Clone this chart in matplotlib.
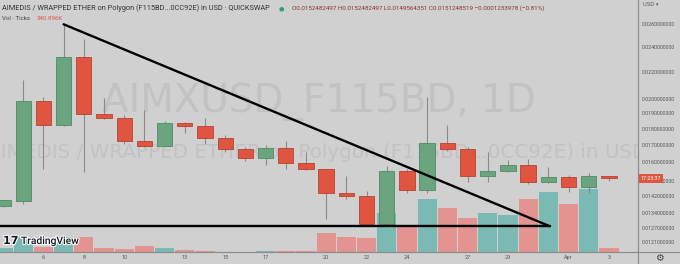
import matplotlib
matplotlib.use("Agg")
import matplotlib.pyplot as plt
from matplotlib.ticker import NullLocator
import matplotlib.patheffects as pe
from matplotlib.lines import Line2D

# ---------------- data ----------------
days = list(range(4, 35))  # day number counted from 1 March (32 = 1 Apr)
opens = [0.01370, 0.01396, 0.01984, 0.01823, 0.02315, 0.01897, 0.01871, 0.01724,
         0.01693, 0.01834, 0.01819, 0.01740, 0.01675, 0.01625, 0.01680, 0.01596,
         0.01561, 0.01438, 0.01421, 0.01289, 0.01550, 0.01453, 0.01715, 0.01675,
         0.01525, 0.01550, 0.01583, 0.01493, 0.01518, 0.01465, 0.0152482497]
highs = [0.01402, 0.02136, 0.02010, 0.02594, 0.02469, 0.02003, 0.01889, 0.01922,
         0.01851, 0.01845, 0.01867, 0.01760, 0.01690, 0.01699, 0.01725, 0.01659,
         0.01565, 0.01523, 0.01446, 0.01580, 0.01565, 0.02014, 0.01823, 0.01690,
         0.01656, 0.01612, 0.01621, 0.01574, 0.01530, 0.01542, 0.0152482497]
lows = [0.01365, 0.01383, 0.01565, 0.01818, 0.01546, 0.01866, 0.01709, 0.01690,
        0.01690, 0.01771, 0.01709, 0.01659, 0.01608, 0.01587, 0.01565, 0.01556,
        0.01312, 0.01408, 0.01282, 0.01287, 0.01437, 0.01437, 0.01665, 0.01493,
        0.01493, 0.01548, 0.01481, 0.01487, 0.01441, 0.01437, 0.0149564351]
closes = [0.01400, 0.01984, 0.01823, 0.02315, 0.01897, 0.01871, 0.01725, 0.01693,
          0.01834, 0.01819, 0.01740, 0.01675, 0.01625, 0.01680, 0.01596, 0.01561,
          0.01438, 0.01421, 0.01289, 0.01550, 0.01453, 0.01715, 0.01675, 0.01525,
          0.01550, 0.01583, 0.01493, 0.01518, 0.01465, 0.01525, 0.0151248519]
volumes_k = [341, 1329, 477, 1278, 1329, 392, 256, 511, 392, 196, 111, 51, 51, 111,
             136, 111, 1670, 1329, 1244, 3375, 2182, 4568, 3775, 2923, 3375, 3153,
             4542, 5139, 4142, 5394, 340.896]

price_ticks = [0.026, 0.024, 0.022, 0.020, 0.019, 0.018, 0.017, 0.016, 0.015,
               0.0142, 0.0134, 0.0127, 0.0121]
date_ticks = [6, 8, 10, 13, 15, 17, 20, 22, 24, 27, 29, 32, 34]
date_labels = ["6", "8", "10", "13", "15", "17", "20", "22", "24", "27", "29", "Apr", "3"]

trend_days = [7.0, 31.08]
trend_prices = [0.02600, 0.01277]
support_days = [3.85, 31.08]
support_prices = [0.01277, 0.01277]

title_text = "AIMEDIS / WRAPPED ETHER on Polygon (F115BD...0CC92E) in USD · QUICKSWAP"
ohlc_text = "O0.0152482497 H0.0152482497 L0.0149564351 C0.0151248519 \u22120.0001233978 (\u22120.81%)"
watermark1 = "AIMXUSD_F115BD, 1D"
watermark2 = "AIMEDIS / WRAPPED ETHER on Polygon (F115BD...0CC92E) in USD"

# ---------------- style ----------------
BG = "#d0d0d0"
UP = "#6aa57f"
UP_EDGE = "#4e8a64"
DN = "#e0553f"
DN_EDGE = "#b8412f"
VUP = "#7bbab4"
VDN = "#e39390"
WICK = "#8a8a8a"
WM = "#c2c2c2"
TXT = "#555555"

W, H = 680, 264
fig = plt.figure(figsize=(W / 100, H / 100), dpi=100)
fig.patch.set_facecolor(BG)

ax_left, ax_right, ax_bottom = 0.0, 638 / W, (H - 252.3) / H
axv = fig.add_axes([ax_left, ax_bottom, ax_right - ax_left, 1 - ax_bottom])
ax = fig.add_axes([ax_left, ax_bottom, ax_right - ax_left, 1 - ax_bottom], sharex=axv)
axv.set_facecolor(BG)
ax.patch.set_visible(False)

x_min, x_max = 3.85, 35.44
ax.set_xlim(x_min, x_max)

# volume
vcols = [VUP if c >= o else VDN for o, c in zip(opens, closes)]
axv.bar(days, volumes_k, width=0.95, color=vcols, edgecolor="none", zorder=1)
axv.set_ylim(0, 252.3 * 85.22)
axv.axis("off")

# watermarks (on volume axes, behind everything)
axv.text(0.5, (252.3 - 102) / 252.3, watermark1, transform=axv.transAxes, ha="center",
         va="center", fontsize=28, color=WM, family="DejaVu Sans", zorder=0)
axv.text(0.497, (252.3 - 152) / 252.3, watermark2, transform=axv.transAxes, ha="center",
         va="center", fontsize=14.3, color=WM, family="DejaVu Sans", zorder=0, clip_on=True)

# candles
ax.set_yscale("log")
ax.set_ylim(0.011654, 0.02832)
ax.vlines(days, lows, highs, color=WICK, lw=0.8, zorder=2)
for d, o, c in zip(days, opens, closes):
    up = c >= o
    bottom = min(o, c)
    height = max(abs(c - o), bottom * 0.004)
    ax.bar(d, height, bottom=bottom, width=0.76, color=UP if up else DN,
           edgecolor=UP_EDGE if up else DN_EDGE, linewidth=0.6, zorder=3)

# drawn trend lines
ax.plot(trend_days, trend_prices, color="black", lw=1.7, zorder=5, solid_capstyle="round")
ax.plot(support_days, support_prices, color="black", lw=1.7, zorder=5, solid_capstyle="round")

# axes
for s in ["top", "left"]:
    ax.spines[s].set_visible(False)
ax.spines["right"].set_color("#8c8c8c")
ax.spines["bottom"].set_color("#8c8c8c")
ax.spines["right"].set_linewidth(0.8)
ax.spines["bottom"].set_linewidth(0.8)
ax.yaxis.tick_right()
ax.yaxis.set_minor_locator(NullLocator())
ax.set_yticks(price_ticks)
ax.set_yticklabels([f"{v:.10f}" for v in price_ticks], family="Roboto")
ax.tick_params(axis="y", length=0, pad=3.0, labelsize=3.8, labelcolor=TXT)
ax.set_xticks(date_ticks)
ax.set_xticklabels(date_labels, family="Roboto")
ax.tick_params(axis="x", length=0, pad=2.2, labelsize=4.0, labelcolor=TXT)
ax.xaxis.set_minor_locator(NullLocator())

# extend axis lines across the whole figure
fig.add_artist(Line2D([638 / W, 638 / W], [0, 1], transform=fig.transFigure, color="#8c8c8c", lw=0.8))
fig.add_artist(Line2D([0, 1], [ax_bottom, ax_bottom], transform=fig.transFigure, color="#8c8c8c", lw=0.8))

def fx(px):
    return px / W

def fy(py):
    return 1 - py / H

# header texts
fig.text(fx(2), fy(8.5), title_text, fontsize=5.3, color="#333333", va="center", ha="left",
         family="Roboto")
fig.text(fx(281), fy(8.5), "\u25cf", fontsize=4.5, color="#2a9d7c", va="center", ha="center",
         family="DejaVu Sans")
fig.text(fx(292), fy(8.5), ohlc_text, fontsize=4.5, color="#8b2f2f", va="center", ha="left",
         family="Roboto")
fig.text(fx(2), fy(18.5), "Vol · Ticks", fontsize=4.4, color="#444444", va="center", ha="left",
         family="Roboto")
fig.text(fx(37), fy(18.5), "340.896K", fontsize=4.4, color="#e0554a", va="center", ha="left",
         family="Roboto")

# right axis extras
fig.text(fx(643), fy(5), "USD \u25be", fontsize=3.8, color=TXT, va="center", ha="left",
         family="DejaVu Sans")
fig.text(fx(651), fy(178.5), "17:23:37", fontsize=3.9, color="white", va="center", ha="center",
         family="Roboto",
         bbox=dict(boxstyle="square,pad=0.4", facecolor="#e0553f", edgecolor="none"))
fig.text(fx(659), fy(258), "\u2699", fontsize=7, color="#444444", va="center", ha="center",
         family="DejaVu Sans")

# TradingView logo
stroke = [pe.withStroke(linewidth=1.6, foreground="white")]
fig.text(fx(3), fy(241), "17", fontsize=8, fontweight="bold", color="#131722", va="center",
         ha="left", family="DejaVu Sans", path_effects=stroke)
fig.text(fx(21), fy(241), "TradingView", fontsize=7.4, color="#131722", va="center",
         ha="left", family="Roboto", fontweight="medium", path_effects=stroke)

fig.savefig("out.png", dpi=100, facecolor=BG)
